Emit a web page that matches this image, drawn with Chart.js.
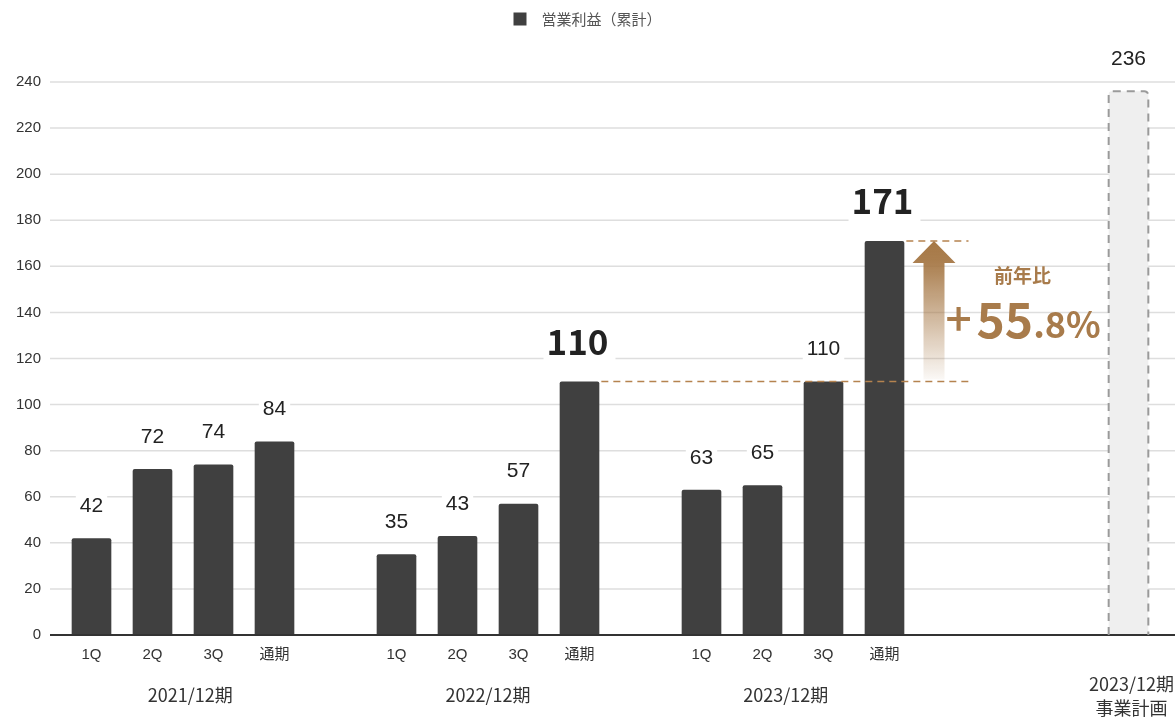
<!DOCTYPE html>
<html><head><meta charset="utf-8">
<script src="https://cdn.jsdelivr.net/npm/chart.js@4.4.1/dist/chart.umd.min.js"></script>
<style>html,body{margin:0;padding:0;background:#fff}#wrap{width:1175px;height:718px;position:relative}</style>
</head><body><div id="wrap"><canvas id="c"></canvas></div>
<script>
// ---- data ----
const categories = ['1Q','2Q','3Q','通期','', '1Q','2Q','3Q','通期','', '1Q','2Q','3Q','通期','', '', '', ''];
const actualValues = [42,72,74,84,null, 35,43,57,110,null, 63,65,110,171,null, null,null,null];
const planValues   = [null,null,null,null,null, null,null,null,null,null, null,null,null,null,null, null,null,236];
const seriesName = '営業利益（累計）';
const planName = '事業計画';
const groupNames = ['2021/12期','2022/12期','2023/12期'];
const groupStarts = [0,5,10];
const planLabelLines = ['2023/12期','事業計画'];
const highlightIdx = [8,13];
const yoyFromIdx = 8, yoyToIdx = 13;
const yoyTitle = '前年比';
const yoyParts = ['+','55','.8%'];
const yMaxTick = 240, yStep = 20;

const BAR = '#404040', BROWN = '#a87b4b';
const CJK = '"Noto Sans CJK JP", "Noto Sans", sans-serif';
const ARIAL = '"Liberation Sans", Arial, "Noto Sans CJK JP", sans-serif';

const decor = {
  id: 'decor',
  beforeDatasetsDraw(chart) {
    const {ctx, scales: {y}, chartArea} = chart;
    ctx.save();
    ctx.strokeStyle = '#dedede'; ctx.lineWidth = 1.5;
    y.ticks.forEach(t => {
      if (t.value === 0) return;
      const py = y.getPixelForValue(t.value);
      ctx.beginPath(); ctx.moveTo(chartArea.left - 11, py); ctx.lineTo(chart.width, py); ctx.stroke();
    });
    ctx.restore();
  },
  afterDatasetsDraw(chart) {
    const {ctx, scales: {x, y}, chartArea} = chart;
    ctx.save();
    // baseline
    const y0 = y.getPixelForValue(0);
    ctx.strokeStyle = '#333'; ctx.lineWidth = 2;
    ctx.beginPath(); ctx.moveTo(chartArea.left - 11, y0); ctx.lineTo(chart.width, y0); ctx.stroke();

    // plan bar dashed outline
    const pm = chart.getDatasetMeta(1);
    planValues.forEach((v, i) => {
      if (v == null) return;
      const el = pm.data[i];
      const l = el.x - el.width / 2, r = el.x + el.width / 2, t = el.y, b = el.base, rad = 4;
      ctx.strokeStyle = '#9a9a9a'; ctx.lineWidth = 2; ctx.setLineDash([8, 6]);
      ctx.beginPath();
      ctx.moveTo(l, b); ctx.lineTo(l, t + rad); ctx.arcTo(l, t, l + rad, t, rad);
      ctx.lineTo(r - rad, t); ctx.arcTo(r, t, r, t + rad, rad); ctx.lineTo(r, b);
      ctx.stroke();
      ctx.setLineDash([]);
    });

    // value labels
    const drawLabel = (el, v, big) => {
      const txt = String(v);
      ctx.textAlign = 'center'; ctx.textBaseline = 'middle';
      if (big) {
        ctx.font = 'bold 35px ' + CJK;
        const w = ctx.measureText(txt).width;
        const cy = el.y - 40;
        ctx.fillStyle = '#fff';
        ctx.fillRect(el.x - w / 2 - 5, cy - 17, w + 10, 38);
        ctx.fillStyle = '#222';
        ctx.fillText(txt, el.x - 2, cy);
      } else {
        ctx.font = '21px ' + ARIAL;
        const w = ctx.measureText(txt).width;
        const cy = el.y - 32;
        ctx.fillStyle = '#fff';
        ctx.fillRect(el.x - w / 2 - 4, cy - 12, w + 8, 24);
        ctx.fillStyle = '#222';
        ctx.fillText(txt, el.x, cy);
      }
    };
    const am = chart.getDatasetMeta(0);
    actualValues.forEach((v, i) => { if (v != null) drawLabel(am.data[i], v, highlightIdx.includes(i)); });
    planValues.forEach((v, i) => { if (v != null) drawLabel(pm.data[i], v, false); });

    // YoY annotation
    const eFrom = am.data[yoyFromIdx], eTo = am.data[yoyToIdx];
    const yA = y.getPixelForValue(actualValues[yoyFromIdx]);
    const yB = y.getPixelForValue(actualValues[yoyToIdx]);
    const xEnd = eTo.x + 84;
    ctx.strokeStyle = '#b5834f'; ctx.lineWidth = 1.5; ctx.setLineDash([7, 5]);
    ctx.beginPath(); ctx.moveTo(eFrom.x + eFrom.width / 2 + 2, yA); ctx.lineTo(xEnd, yA); ctx.stroke();
    ctx.beginPath(); ctx.moveTo(eTo.x + eTo.width / 2 + 2, yB); ctx.lineTo(xEnd, yB); ctx.stroke();
    ctx.setLineDash([]);
    const ax = eTo.x + 49.5;
    const g = ctx.createLinearGradient(0, yB, 0, yA);
    g.addColorStop(0, 'rgba(166,120,70,1)');
    g.addColorStop(0.15, 'rgba(166,120,70,0.95)');
    g.addColorStop(1, 'rgba(166,120,70,0.03)');
    ctx.fillStyle = g;
    ctx.beginPath();
    ctx.moveTo(ax, yB); ctx.lineTo(ax + 21.5, yB + 22); ctx.lineTo(ax + 10.5, yB + 22);
    ctx.lineTo(ax + 10.5, yA - 2); ctx.lineTo(ax - 10.5, yA - 2); ctx.lineTo(ax - 10.5, yB + 22);
    ctx.lineTo(ax - 21.5, yB + 22); ctx.closePath(); ctx.fill();

    ctx.fillStyle = BROWN; ctx.textBaseline = 'middle'; ctx.textAlign = 'center';
    ctx.font = 'bold 19px ' + CJK;
    ctx.fillText(yoyTitle, eTo.x + 138, yB + 35);
    ctx.textBaseline = 'alphabetic'; ctx.textAlign = 'left';
    const base = yB + 97;
    ctx.font = '500 46px ' + CJK; ctx.fillText(yoyParts[0], eTo.x + 61, base - 2);
    ctx.font = 'bold 48px ' + CJK; ctx.fillText(yoyParts[1], eTo.x + 92, base);
    const w55 = ctx.measureText(yoyParts[1]).width;
    ctx.font = 'bold 36px ' + CJK; ctx.fillText(yoyParts[2], eTo.x + 92 + w55, base);

    // group labels
    ctx.fillStyle = '#333'; ctx.textAlign = 'center'; ctx.textBaseline = 'middle';
    ctx.font = '18px ' + CJK;
    groupStarts.forEach((s, k) => {
      const cx = (x.getPixelForValue(s + 1) + x.getPixelForValue(s + 2)) / 2 + (1 - k) * 7.3;
      ctx.fillText(groupNames[k], cx, y0 + 60);
    });
    const planIdx = planValues.findIndex(v => v != null);
    const px = x.getPixelForValue(planIdx) + 3;
    planLabelLines.forEach((t, k) => ctx.fillText(t, px, y0 + 49 + k * 24));
    ctx.restore();
  }
};

new Chart(document.getElementById('c'), {
  type: 'bar',
  data: {
    labels: categories,
    datasets: [
      { label: seriesName, data: actualValues, backgroundColor: BAR, borderRadius: 2, borderSkipped: 'bottom' },
      { label: planName, data: planValues, backgroundColor: '#efefef', borderRadius: 3, borderSkipped: 'bottom' }
    ]
  },
  options: {
    responsive: true, maintainAspectRatio: false, animation: false,
    layout: { padding: 0 },
    datasets: { bar: { categoryPercentage: 1, barPercentage: 0.65 } },
    plugins: {
      legend: {
        position: 'top',
        labels: {
          filter: (item) => item.datasetIndex === 0,
          generateLabels: (chart) => Chart.defaults.plugins.legend.labels.generateLabels(chart)
            .map(l => Object.assign(l, { text: '\u2002' + l.text })),
          boxWidth: 13, boxHeight: 13, padding: 11.5,
          color: '#555', font: { family: CJK, size: 15 }
        }
      },
      tooltip: { enabled: false }
    },
    scales: {
      x: {
        stacked: true,
        grid: { display: false }, border: { display: false },
        ticks: { color: '#333', font: { family: ARIAL, size: 15 }, padding: 3, maxRotation: 0, autoSkip: false },
        afterFit: (s) => { s.height = 83; }
      },
      y: {
        stacked: true, beginAtZero: true, max: yMaxTick * 598.5 / 553,
        grid: { display: false }, border: { display: false },
        afterBuildTicks: (s) => { s.ticks = s.ticks.filter(t => t.value <= yMaxTick); },
        ticks: { stepSize: yStep, includeBounds: false, color: '#333', font: { family: ARIAL, size: 15 }, padding: 12 },
        afterFit: (s) => { s.width = 61; }
      },
      yRight: {
        position: 'right', display: true,
        grid: { display: false }, border: { display: false },
        ticks: { display: false },
        afterFit: (s) => { s.width = 16; }
      }
    }
  },
  plugins: [decor]
});
</script>
</body></html>
